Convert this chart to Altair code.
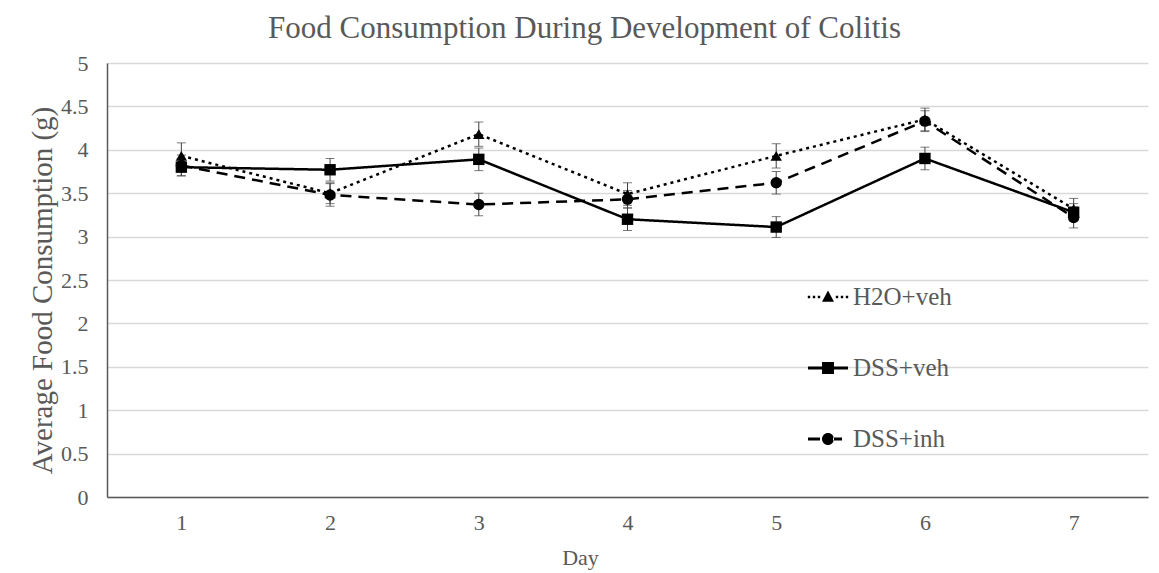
import altair as alt
import pandas as pd

# ---- data ----
days = [1, 2, 3, 4, 5, 6, 7]
series_names = ["H2O+veh", "DSS+veh", "DSS+inh"]
h2o_veh = [3.93, 3.50, 4.18, 3.49, 3.93, 4.35, 3.32]
h2o_veh_err = [0.15, 0.12, 0.14, 0.13, 0.14, 0.13, 0.12]
dss_veh = [3.80, 3.77, 3.89, 3.20, 3.11, 3.90, 3.28]
dss_veh_err = [0.10, 0.13, 0.13, 0.13, 0.12, 0.13, 0.10]
dss_inh = [3.82, 3.48, 3.37, 3.43, 3.62, 4.33, 3.22]
dss_inh_err = [0.12, 0.13, 0.13, 0.10, 0.13, 0.12, 0.12]
y_ticks = [0, 0.5, 1, 1.5, 2, 2.5, 3, 3.5, 4, 4.5, 5]

rows = []
for name, vals, errs in zip(series_names, [h2o_veh, dss_veh, dss_inh],
                            [h2o_veh_err, dss_veh_err, dss_inh_err]):
    for d, v, e in zip(days, vals, errs):
        rows.append({"Day": d, "Series": name, "Value": v,
                     "Lo": v - e, "Hi": v + e})
df = pd.DataFrame(rows)

FONT = "Liberation Serif"
TXT = "#595959"

x_enc = alt.X("Day:Q", scale=alt.Scale(domain=[0.5, 7.5], nice=False, zero=False),
              axis=alt.Axis(values=days, title="Day", grid=False, ticks=False,
                            labelPadding=15, titlePadding=14, format="d",
                            titleFontSize=22, titleX=473, titleAlign="center",
                            domainColor="#595959", domainWidth=1.5))
y_enc = alt.Y("Value:Q", scale=alt.Scale(domain=[0, 5], nice=False),
              axis=alt.Axis(values=y_ticks, title="Average Food Consumption (g)",
                            ticks=False, labelPadding=19, titlePadding=3,
                            format="~g", titleFontSize=29, titleY=227,
                            gridColor="#d9d9d9", gridWidth=1.5,
                            domainColor="#595959", domainWidth=1.5))

base = alt.Chart(df)

err_rule = base.mark_rule(color="#404040", strokeWidth=1).encode(
    x=x_enc, y=alt.Y("Lo:Q"), y2="Hi:Q")
err_lo = base.mark_tick(color="#404040", thickness=1, size=9, orient="horizontal").encode(
    x="Day:Q", y="Lo:Q")
err_hi = base.mark_tick(color="#404040", thickness=1, size=9, orient="horizontal").encode(
    x="Day:Q", y="Hi:Q")

lines = base.mark_line(color="black", strokeWidth=2.5).encode(
    x=x_enc, y=y_enc,
    strokeDash=alt.StrokeDash("Series:N", legend=None,
                              scale=alt.Scale(domain=series_names,
                                              range=[[3, 4], [1, 0], [11, 7]])),
    detail="Series:N")

points = base.mark_point(filled=True, color="black", opacity=1, size=130).encode(
    x="Day:Q", y="Value:Q",
    shape=alt.Shape("Series:N", legend=None,
                    scale=alt.Scale(domain=series_names,
                                    range=["triangle-up", "square", "circle"])))

# legend symbols: line style + marker, as unit-box SVG paths
dots_l = "".join(f"M{c-0.06:.2f},-0.06h0.12v0.12h-0.12Z" for c in [-0.95, -0.7, -0.45])
dots_r = "".join(f"M{c-0.06:.2f},-0.06h0.12v0.12h-0.12Z" for c in [0.45, 0.7, 0.95])
sym_h2o = dots_l + dots_r + "M0,-0.32L0.3,0.24L-0.3,0.24Z"
sym_dssveh = "M-1,-0.07H1V0.07H-1Z M-0.3,-0.3H0.3V0.3H-0.3Z"
sym_dssinh = ("M-1,-0.07H-0.4V0.07H-1Z M0.25,-0.07H0.7V0.07H0.25Z "
              "M-0.3,0A0.3,0.3 0 1,0 0.3,0A0.3,0.3 0 1,0 -0.3,0Z")

legend_layer = base.transform_filter("datum.Day < 0").mark_point(
    filled=True, color="black", opacity=1).encode(
    x="Day:Q", y="Value:Q",
    shape=alt.Shape("Series:N",
                    scale=alt.Scale(domain=series_names,
                                    range=[sym_h2o, sym_dssveh, sym_dssinh]),
                    legend=alt.Legend(title=None, orient="none", legendX=701, legendY=214,
                                      symbolSize=1600, symbolStrokeWidth=0,
                                      symbolFillColor="black", symbolOpacity=1,
                                      labelFont=FONT, labelFontSize=25,
                                      labelColor=TXT, labelOffset=5,
                                      rowPadding=38, padding=0)))

chart = alt.layer(err_rule, err_lo, err_hi, lines, points, legend_layer).resolve_scale(
    shape="independent"
).properties(
    width=1041, height=434,
    background="white",
    autosize=alt.AutoSizeParams(type="none"),
    padding={"left": 99, "top": 55, "right": 3, "bottom": 90},
    title=alt.TitleParams("Food Consumption During Development of Colitis",
                          font=FONT, fontSize=31, fontWeight="normal", color=TXT,
                          anchor="middle", dx=-43, offset=7),
).configure_axis(
    labelFont=FONT, labelFontSize=22, labelColor=TXT,
    titleFont=FONT, titleFontWeight="normal", titleColor=TXT,
).configure_view(stroke=None)

chart.save("out.html", embed_options={"renderer": "svg", "actions": False})
